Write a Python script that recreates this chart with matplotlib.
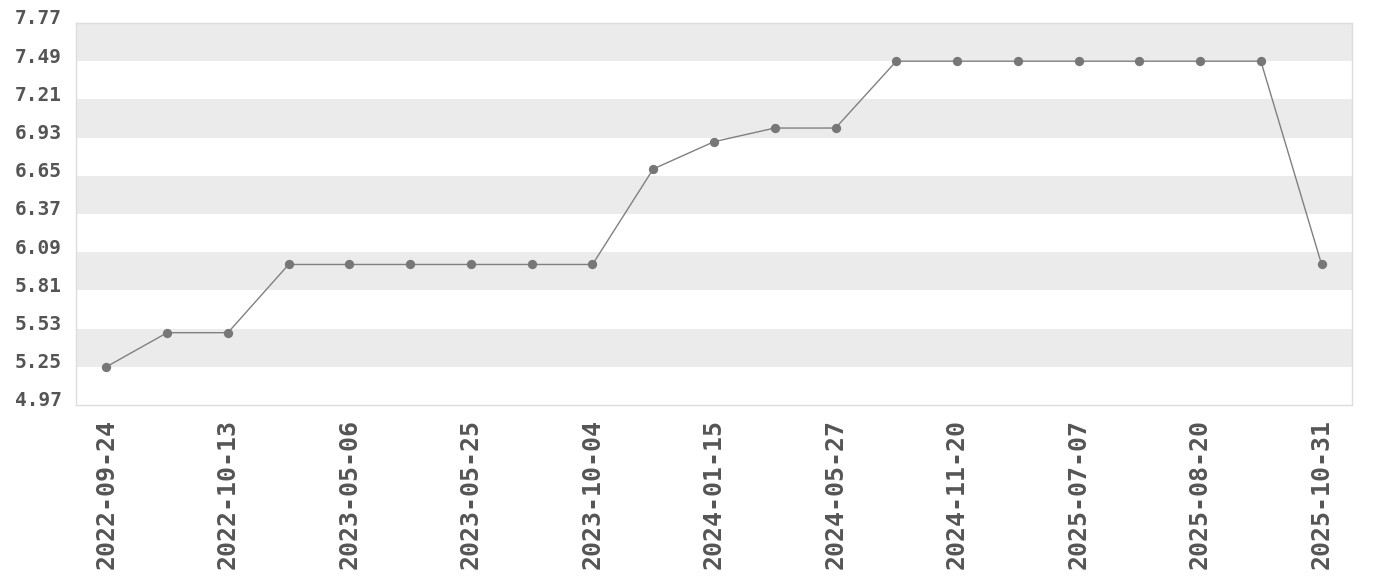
import numpy as np
import matplotlib
matplotlib.use("Agg")
import matplotlib.pyplot as plt
from matplotlib.transforms import ScaledTranslation

values = [5.25, 5.50, 5.50, 6.00, 6.00, 6.00, 6.00, 6.00, 6.00, 6.70,
          6.90, 7.00, 7.00, 7.49, 7.49, 7.49, 7.49, 7.49, 7.49, 7.49, 6.00]
# only every second date is labelled on the axis
tick_labels = ["2022-09-24", "2022-10-13", "2023-05-06", "2023-05-25", "2023-10-04",
               "2024-01-15", "2024-05-27", "2024-11-20", "2025-07-07", "2025-08-20",
               "2025-10-31"]
y_ticks = [4.97, 5.25, 5.53, 5.81, 6.09, 6.37, 6.65, 6.93, 7.21, 7.49, 7.77]

FONT = "DejaVu Sans Mono"
TXT = "#555555"

fig = plt.figure(figsize=(13.8, 5.8), dpi=100)
ax = fig.add_axes([76 / 1380, 1 - 405 / 580, (1352 - 76) / 1380, (405 - 23) / 580])

xs = np.arange(len(values))
ax.set_xlim(-0.5, len(values) - 0.5)
ax.set_ylim(y_ticks[0], y_ticks[-1])

# alternating bands, top band shaded
for i in range(len(y_ticks) - 1):
    if (len(y_ticks) - 2 - i) % 2 == 0:
        ax.axhspan(y_ticks[i], y_ticks[i + 1], color="#ebebeb", lw=0, zorder=0)

ax.plot(xs, values, color="#808080", lw=1.0, zorder=2)
ax.scatter(xs, values, s=45, color="#777777", zorder=3, linewidths=0)

ax.set_yticks(y_ticks)
ax.set_yticklabels([f"{v:.2f}" for v in y_ticks])
ax.set_xticks(xs[::2])
ax.set_xticklabels(tick_labels, rotation=90)
ax.tick_params(length=0, labelcolor=TXT)
ax.tick_params(axis="y", pad=10, labelsize=14)
ax.tick_params(axis="x", pad=10, labelsize=18)
for lab in ax.get_xticklabels() + ax.get_yticklabels():
    lab.set_fontfamily(FONT)
    lab.set_fontweight("bold")
shift = ScaledTranslation(0, 6 / 100, fig.dpi_scale_trans)
for lab in ax.get_yticklabels():
    lab.set_transform(lab.get_transform() + shift)

for sp in ax.spines.values():
    sp.set_color("#dddddd")
    sp.set_linewidth(1)

fig.savefig("out.png", dpi=100)
